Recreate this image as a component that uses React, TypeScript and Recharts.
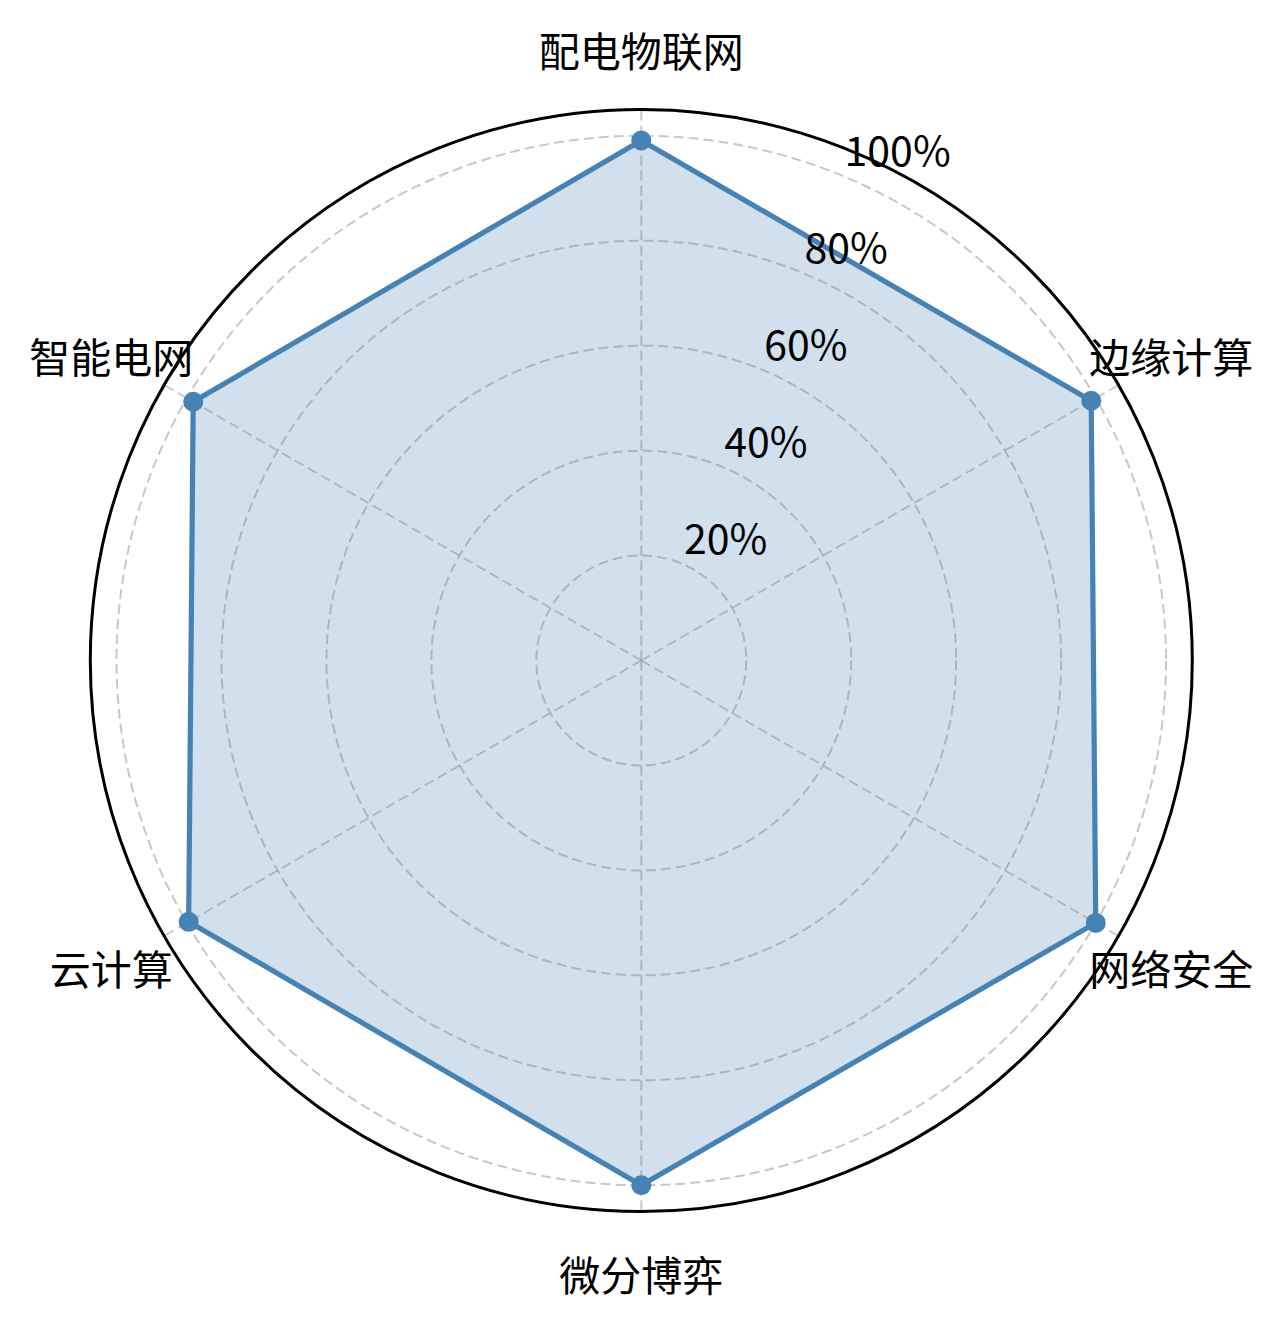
import React from "react";
import {
  RadarChart,
  Radar,
  PolarGrid,
  PolarAngleAxis,
  PolarRadiusAxis,
} from "recharts";

const categories = ["配电物联网", "边缘计算", "网络安全", "微分博弈", "云计算", "智能电网"];
const scores = [99.1, 99.0, 100, 100, 99.6, 98.6];
const radiusTicks = [20, 40, 60, 80, 100];
const radiusDomain = [0, 105];

const data = categories.map((name, i) => ({ name, score: scores[i] }));

const W = 1267;
const H = 1308;
const CX = 633.3;
const CY = 652.5;
const OUTER = 551;
const LABEL_R = 612;
const BLUE = "#4682b4";
const FONT = '"Noto Sans CJK SC", "Noto Sans", sans-serif';

const AngleTick = (props: any) => {
  const { payload } = props;
  const a = (payload.coordinate * Math.PI) / 180;
  const x = CX + LABEL_R * Math.cos(a);
  const y = CY - LABEL_R * Math.sin(a);
  return (
    <text
      x={x}
      y={y}
      textAnchor="middle"
      dominantBaseline="central"
      fontSize={41}
      fontFamily={FONT}
      fill="#000"
    >
      {payload.value}
    </text>
  );
};

const RadiusTick = (props: any) => {
  const { x, y, payload } = props;
  return (
    <text x={x + 2.5} y={y - 10} textAnchor="start" fontSize={41} fontFamily={FONT} fill="#000">
      {payload.value}%
    </text>
  );
};

export default function App() {
  return (
    <RadarChart
      width={W}
      height={H}
      data={data}
      cx={CX}
      cy={CY}
      outerRadius={OUTER}
      startAngle={90}
      endAngle={-270}
      margin={{ top: 0, right: 0, bottom: 0, left: 0 }}
    >
      <Radar
        dataKey="score"
        fill={BLUE}
        fillOpacity={0.25}
        stroke="none"
        dot={false}
        isAnimationActive={false}
      />
      <PolarGrid
        gridType="circle"
        stroke="#b0b0b0"
        strokeOpacity={0.7}
        strokeWidth={2}
        strokeDasharray="10 5"
      />
      <PolarGrid
        gridType="circle"
        polarRadius={[OUTER]}
        radialLines={false}
        stroke="#000"
        strokeWidth={3}
      />
      <PolarAngleAxis dataKey="name" tick={<AngleTick />} tickLine={false} axisLine={false} />
      <PolarRadiusAxis
        angle={67.5}
        type="number"
        domain={radiusDomain}
        ticks={radiusTicks}
        tick={<RadiusTick />}
        tickLine={false}
        axisLine={false}
      />
      <Radar
        dataKey="score"
        fill="none"
        stroke={BLUE}
        strokeWidth={5.2}
        dot={{ r: 10, fill: BLUE, stroke: "none", fillOpacity: 1 }}
        isAnimationActive={false}
      />
    </RadarChart>
  );
}
